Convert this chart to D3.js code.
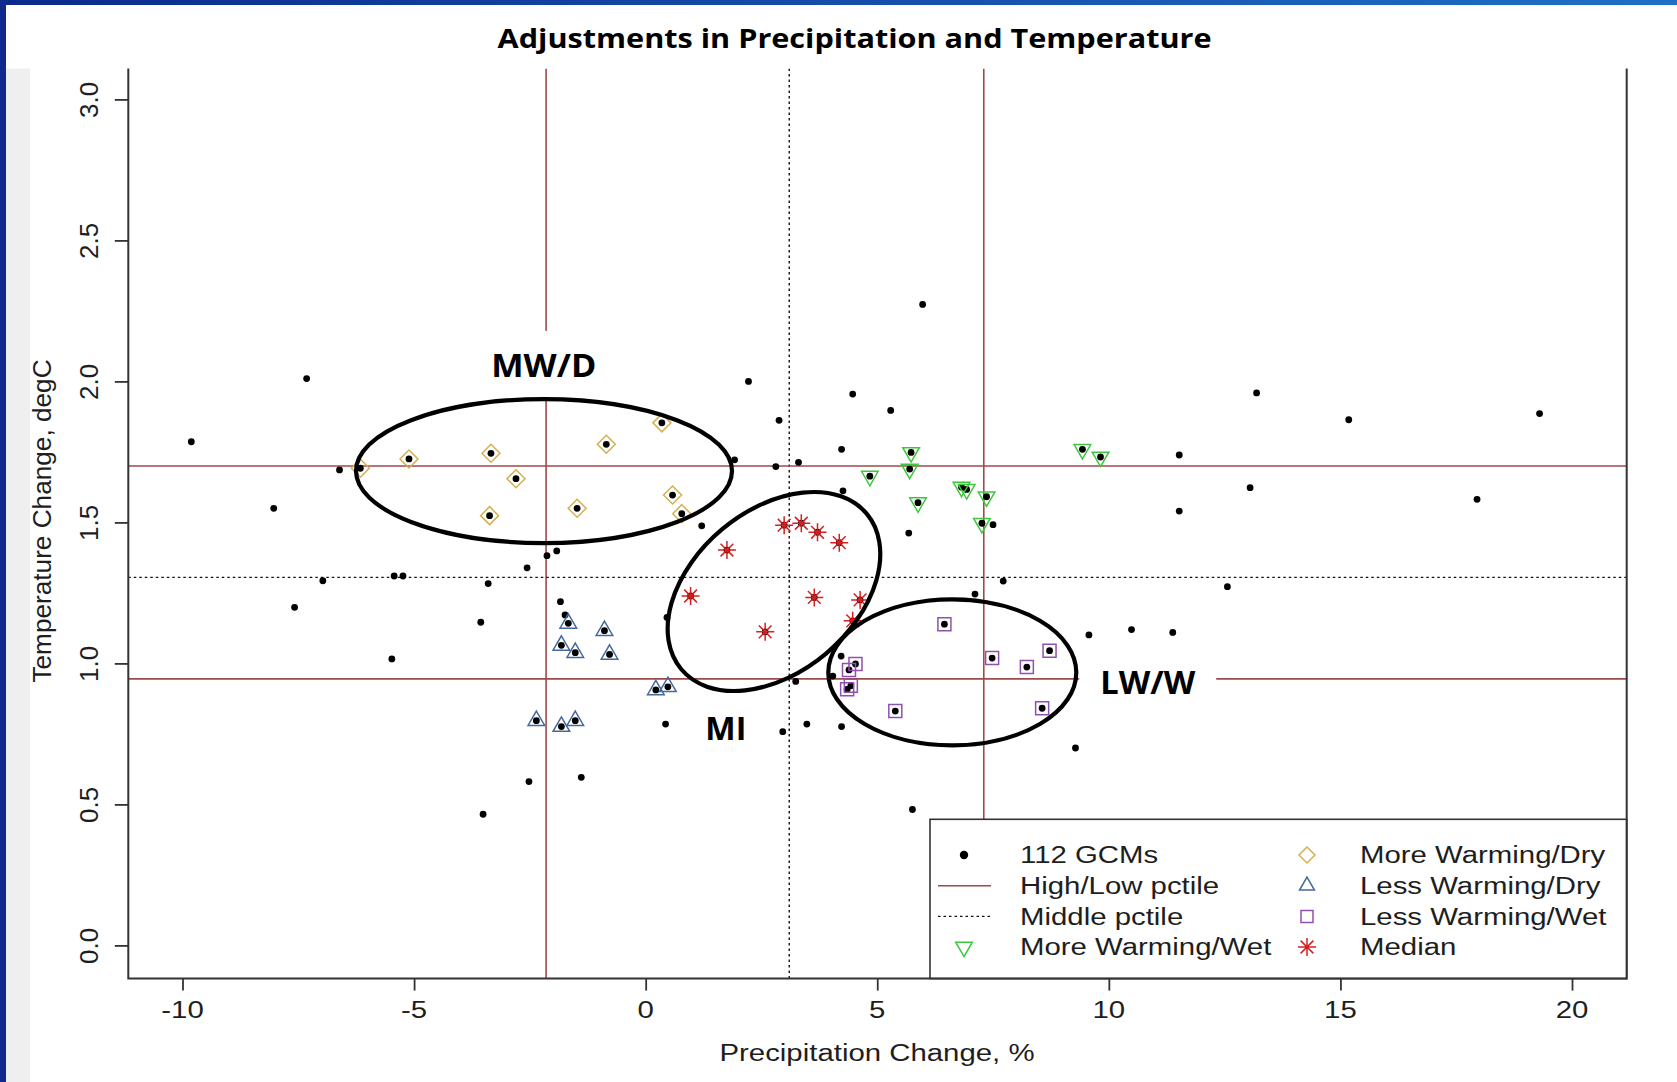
<!DOCTYPE html>
<html>
<head>
<meta charset="utf-8">
<script src="https://cdn.jsdelivr.net/npm/d3@7"></script>
<style>
  html, body { margin: 0; padding: 0; background: #ffffff; }
  svg { display: block; }
</style>
</head>
<body>
<svg id="chart" width="1677" height="1082"></svg>
<script>
// ---------------- data (precipitation change %, temperature change degC) ----------------
// GCM projections outside any highlighted group
const gcmOther = [
  [-9.81, 1.786], [-7.32, 2.01], [-8.03, 1.55], [-6.61, 1.686], [-6.97, 1.293],
  [-7.58, 1.199], [-5.48, 1.016], [-5.43, 1.31], [-5.24, 1.31], [-3.40, 1.283],
  [-3.56, 1.146], [-3.51, 0.465], [-2.56, 1.339], [-2.13, 1.382], [-1.92, 1.399],
  [-2.52, 0.581], [-1.39, 0.596], [-1.84, 1.219], [-1.74, 1.172], [0.43, 0.785],
  [0.46, 1.163], [1.21, 1.488], [1.92, 1.722], [2.22, 2.00], [2.81, 1.698],
  [3.30, 1.713], [2.88, 1.862], [2.96, 0.758], [3.48, 0.785], [4.23, 0.776],
  [3.24, 0.936], [4.22, 1.026], [4.04, 0.955], [4.23, 1.759], [4.26, 1.612],
  [4.47, 1.955], [5.29, 1.897], [5.98, 2.273], [5.68, 1.462], [7.50, 1.492],
  [7.72, 1.292], [7.11, 1.246], [9.57, 1.101], [10.49, 1.12], [9.28, 0.70],
  [11.52, 1.739], [11.52, 1.54], [13.05, 1.623], [13.19, 1.959], [15.18, 1.864],
  [17.95, 1.582], [19.30, 1.886], [12.56, 1.272], [11.38, 1.11], [5.76, 0.482]
];
const moreWarmingDry = [
  [-6.16, 1.692], [-5.11, 1.725], [-3.34, 1.745], [-2.80, 1.655], [-3.37, 1.524],
  [-1.48, 1.55], [-0.85, 1.777], [0.35, 1.853], [0.58, 1.597], [0.78, 1.531]
];
const lessWarmingDry = [
  [-1.67, 1.142], [-0.89, 1.116], [-1.82, 1.064], [-1.52, 1.038], [-0.78, 1.032],
  [0.22, 0.906], [0.48, 0.917], [-2.36, 0.797], [-1.82, 0.776], [-1.52, 0.797]
];
const lessWarmingWet = [
  [6.45, 1.139], [4.53, 0.998], [4.39, 0.977], [4.43, 0.921], [4.35, 0.908],
  [7.48, 1.019], [8.23, 0.987], [8.72, 1.045], [8.56, 0.841], [5.39, 0.831]
];
const moreWarmingWet = [
  [5.73, 1.748], [5.70, 1.689], [4.84, 1.664], [6.82, 1.625], [6.93, 1.617],
  [7.36, 1.591], [5.88, 1.570], [7.26, 1.497], [9.43, 1.759], [9.82, 1.732]
];
const medianGroup = [
  [0.97, 1.239], [1.755, 1.402], [2.99, 1.49], [3.36, 1.497], [3.71, 1.465],
  [4.18, 1.428], [3.64, 1.234], [4.63, 1.225], [4.47, 1.151], [2.58, 1.112]
];

// percentile thresholds: [low, middle, high]
const precipPctiles = [-2.15, 3.10, 7.30];
const tempPctiles = [0.945, 1.305, 1.70];

// axis ticks
const xTicks = [-10, -5, 0, 5, 10, 15, 20];
const yTicks = [0, 0.5, 1.0, 1.5, 2.0, 2.5, 3.0];

// circled clusters: name, centre (precip, temp), label anchor (precip, temp)
const clusterNames = ["MW/D", "MI", "LW/W"];
const clusterCentre = [[-2.195, 1.682], [2.77, 1.255], [6.62, 0.968]];
const clusterLabelAt = [[-2.20, 2.016], [1.73, 0.728], [10.84, 0.891]];

const legendCol1 = ["112 GCMs", "High/Low pctile", "Middle pctile", "More Warming/Wet"];
const legendCol2 = ["More Warming/Dry", "Less Warming/Dry", "Less Warming/Wet", "Median"];

const titleText = "Adjustments in Precipitation and Temperature";
const xTitle = "Precipitation Change, %";
const yTitle = "Temperature Change, degC";

// ---------------- layout & style ----------------
const box = { left: 128.3, right: 1626.7, top: 68.5, bottom: 978.6 };
const x = d3.scaleLinear().domain([-10, 20]).range([182.5, 1572]);
const y = d3.scaleLinear().domain([0, 3]).range([945.4, 99.4]);

const col = {
  pctile: "#9c4a4a", axis: "#333333", text: "#1e1e1e",
  mwd: "#d6b04e", lwd: "#46699c", lww: "#9050b0", mww: "#3cc83c", med: "#d42020"
};
const RFONT = "'Liberation Sans', Arial, sans-serif";
const BFONT = "'Open Sans', 'Noto Sans', sans-serif";
const WIDE = 1.25;   // horizontal text in this figure is rendered wide

const shape = {
  diamond: s => `M0,${-s}L${s},0L0,${s}L${-s},0Z`,
  triUp: r => `M0,${-r}L${r * 0.866},${r / 2}L${-r * 0.866},${r / 2}Z`,
  triDown: r => `M0,${r}L${r * 0.866},${-r / 2}L${-r * 0.866},${-r / 2}Z`,
  square: h => `M${-h},${-h}h${2 * h}v${2 * h}h${-2 * h}Z`,
  star: a => {
    const b = a / Math.SQRT2;
    return `M${-a},0L${a},0M0,${-a}L0,${a}M${-b},${-b}L${b},${b}M${-b},${b}L${b},${-b}`;
  }
};
const markerSize = { diamond: 9, tri: 9.6, square: 6.5, star: 9 };

const svg = d3.select("#chart");

// ---------------- slide frame ----------------
const defs = svg.append("defs");
const grad = defs.append("linearGradient").attr("id", "topBar")
  .attr("x1", "0%").attr("x2", "100%").attr("y1", "0%").attr("y2", "0%");
grad.append("stop").attr("offset", "0%").attr("stop-color", "#0b2a8c");
grad.append("stop").attr("offset", "100%").attr("stop-color", "#1f70c6");
svg.append("rect").attr("x", 0).attr("y", 0).attr("width", 1677).attr("height", 1082).attr("fill", "#ffffff");
svg.append("rect").attr("x", 0).attr("y", 0).attr("width", 1677).attr("height", 5).attr("fill", "url(#topBar)");
svg.append("rect").attr("x", 0).attr("y", 0).attr("width", 6).attr("height", 1082).attr("fill", "#0e2a8a");
svg.append("rect").attr("x", 6).attr("y", box.top).attr("width", 24).attr("height", 1082 - box.top).attr("fill", "#efefef");

svg.append("text")
  .attr("x", 854.6).attr("y", 47.5)
  .attr("text-anchor", "middle")
  .attr("font-family", BFONT).attr("font-weight", 700).attr("font-size", 27.5)
  .attr("textLength", 714).attr("lengthAdjust", "spacingAndGlyphs")
  .attr("fill", "#000").text(titleText);

// helper for the wide horizontal text
function wideText(parent, px, py, str, anchor, size) {
  const g = parent.append("g").attr("transform", `translate(${px},${py})`);
  g.append("text").attr("transform", `scale(${WIDE},1)`)
    .attr("text-anchor", anchor)
    .attr("font-family", RFONT).attr("font-size", size)
    .attr("fill", col.text).text(str);
  return g;
}

// ---------------- plot region ----------------
defs.append("clipPath").attr("id", "plotClip").append("rect")
  .attr("x", box.left).attr("y", box.top)
  .attr("width", box.right - box.left).attr("height", box.bottom - box.top);
const plot = svg.append("g").attr("clip-path", "url(#plotClip)");

// percentile reference lines
const lineStyle = i => i === 1
  ? { stroke: "#111", dash: "2.5,3", w: 1.4 }
  : { stroke: col.pctile, dash: null, w: 1.6 };
precipPctiles.forEach((p, i) => {
  const st = lineStyle(i);
  plot.append("line")
    .attr("x1", x(p)).attr("x2", x(p)).attr("y1", box.top).attr("y2", box.bottom)
    .attr("stroke", st.stroke).attr("stroke-width", st.w).attr("stroke-dasharray", st.dash);
});
tempPctiles.forEach((t, i) => {
  const st = lineStyle(i);
  plot.append("line")
    .attr("x1", box.left).attr("x2", box.right).attr("y1", y(t)).attr("y2", y(t))
    .attr("stroke", st.stroke).attr("stroke-width", st.w).attr("stroke-dasharray", st.dash);
});

// every GCM as a black dot
const allGcms = gcmOther.concat(moreWarmingDry, lessWarmingDry, lessWarmingWet, moreWarmingWet, medianGroup);
plot.append("g").selectAll("circle").data(allGcms).join("circle")
  .attr("cx", d => x(d[0])).attr("cy", d => y(d[1])).attr("r", 3.4).attr("fill", "#000");

// group markers
function markers(data, path, colour) {
  plot.append("g").selectAll("path").data(data).join("path")
    .attr("transform", d => `translate(${x(d[0])},${y(d[1])})`)
    .attr("d", path).attr("fill", "none")
    .attr("stroke", colour).attr("stroke-width", 1.5);
}
markers(moreWarmingDry, shape.diamond(markerSize.diamond), col.mwd);
markers(lessWarmingDry, shape.triUp(markerSize.tri), col.lwd);
markers(lessWarmingWet, shape.square(markerSize.square), col.lww);
markers(moreWarmingWet, shape.triDown(markerSize.tri), col.mww);
markers(medianGroup, shape.star(markerSize.star), col.med);

// ---------------- cluster rings & labels ----------------
const ringShape = {
  "MW/D": { rx: 188, ry: 72, rot: 0 },
  "MI":   { rx: 121, ry: 81, rot: -40 },
  "LW/W": { rx: 124, ry: 73, rot: 0 }
};
const labelWidth = { "MW/D": 105, "MI": 41, "LW/W": 95 };
const notes = svg.append("g");

// white backing behind each label
clusterNames.forEach((name, i) => {
  const [lp, lt] = clusterLabelAt[i];
  const w = labelWidth[name] + 42;
  notes.append("rect")
    .attr("x", x(lp) - w / 2).attr("y", y(lt) - 46)
    .attr("width", w).attr("height", 67).attr("fill", "#ffffff");
});
clusterNames.forEach((name, i) => {
  const [cp, ct] = clusterCentre[i];
  const s = ringShape[name];
  notes.append("ellipse")
    .attr("transform", `translate(${x(cp)},${y(ct)}) rotate(${s.rot})`)
    .attr("rx", s.rx).attr("ry", s.ry)
    .attr("fill", "none").attr("stroke", "#000").attr("stroke-width", 4.2);
});
clusterNames.forEach((name, i) => {
  const [lp, lt] = clusterLabelAt[i];
  notes.append("text")
    .attr("x", x(lp)).attr("y", y(lt))
    .attr("text-anchor", "middle")
    .attr("font-family", BFONT).attr("font-weight", 700).attr("font-size", 32)
    .attr("textLength", labelWidth[name]).attr("lengthAdjust", "spacingAndGlyphs")
    .attr("fill", "#000").text(name);
});

// ---------------- legend ----------------
const leg = svg.append("g");
leg.append("rect")
  .attr("x", 930).attr("y", 819.3).attr("width", box.right - 930).attr("height", box.bottom - 819.3)
  .attr("fill", "#ffffff").attr("stroke", "#333").attr("stroke-width", 1.6);
const rowY = [855, 885.7, 916.4, 947];
const sym1 = 964, txt1 = 1020, sym2 = 1307, txt2 = 1360;
const legendSize = 23.5;

// column 1 symbols
leg.append("circle").attr("cx", sym1).attr("cy", rowY[0]).attr("r", 4.2).attr("fill", "#000");
leg.append("line").attr("x1", 938).attr("x2", 991).attr("y1", rowY[1]).attr("y2", rowY[1])
  .attr("stroke", col.pctile).attr("stroke-width", 1.6);
leg.append("line").attr("x1", 938).attr("x2", 991).attr("y1", rowY[2]).attr("y2", rowY[2])
  .attr("stroke", "#111").attr("stroke-width", 1.4).attr("stroke-dasharray", "2.5,3");
leg.append("path").attr("transform", `translate(${sym1},${rowY[3]})`)
  .attr("d", shape.triDown(markerSize.tri)).attr("fill", "none").attr("stroke", col.mww).attr("stroke-width", 1.5);

// column 2 symbols
const col2Sym = [
  [shape.diamond(markerSize.diamond - 1), col.mwd],
  [shape.triUp(markerSize.tri - 1), col.lwd],
  [shape.square(markerSize.square - 0.5), col.lww],
  [shape.star(markerSize.star), col.med]
];
col2Sym.forEach(([d, c], i) => {
  leg.append("path").attr("transform", `translate(${sym2},${rowY[i]})`)
    .attr("d", d).attr("fill", "none").attr("stroke", c).attr("stroke-width", 1.5);
});
legendCol1.forEach((t, i) => wideText(leg, txt1, rowY[i] + 8.4, t, "start", legendSize));
legendCol2.forEach((t, i) => wideText(leg, txt2, rowY[i] + 8.4, t, "start", legendSize));

// ---------------- axes ----------------
const axes = svg.append("g");
const xAxis = axes.append("g").attr("transform", `translate(0,${box.bottom})`)
  .call(d3.axisBottom(x).tickValues(xTicks).tickSize(12).tickFormat(d => String(d)));
xAxis.select(".domain").remove();
xAxis.selectAll(".tick line").attr("stroke", col.axis).attr("stroke-width", 1.8);
xAxis.selectAll(".tick text").remove();
xTicks.forEach(t => wideText(axes, x(t), 1018.3, String(t), "middle", 23.5));

const yAxis = axes.append("g").attr("transform", `translate(${box.left},0)`)
  .call(d3.axisLeft(y).tickValues(yTicks).tickSize(13.5).tickFormat(d3.format(".1f")));
yAxis.select(".domain").remove();
yAxis.selectAll(".tick line").attr("stroke", col.axis).attr("stroke-width", 1.8);
yAxis.selectAll(".tick text")
  .attr("x", null).attr("dy", null).attr("y", null)
  .attr("transform", "translate(-30.5,0) rotate(-90)")
  .attr("text-anchor", "middle")
  .attr("font-family", RFONT).attr("font-size", 26).attr("fill", col.text);

// plot frame (top edge lies outside the visible figure)
axes.append("path")
  .attr("d", `M${box.left},${box.top}V${box.bottom}H${box.right}V${box.top}`)
  .attr("fill", "none").attr("stroke", col.axis).attr("stroke-width", 2);

// axis titles
wideText(axes, 877, 1061, xTitle, "middle", 23.5);
axes.append("text")
  .attr("transform", `translate(50.5,521) rotate(-90)`)
  .attr("text-anchor", "middle")
  .attr("font-family", RFONT).attr("font-size", 26.2)
  .attr("fill", col.text).text(yTitle);
</script>
</body>
</html>
